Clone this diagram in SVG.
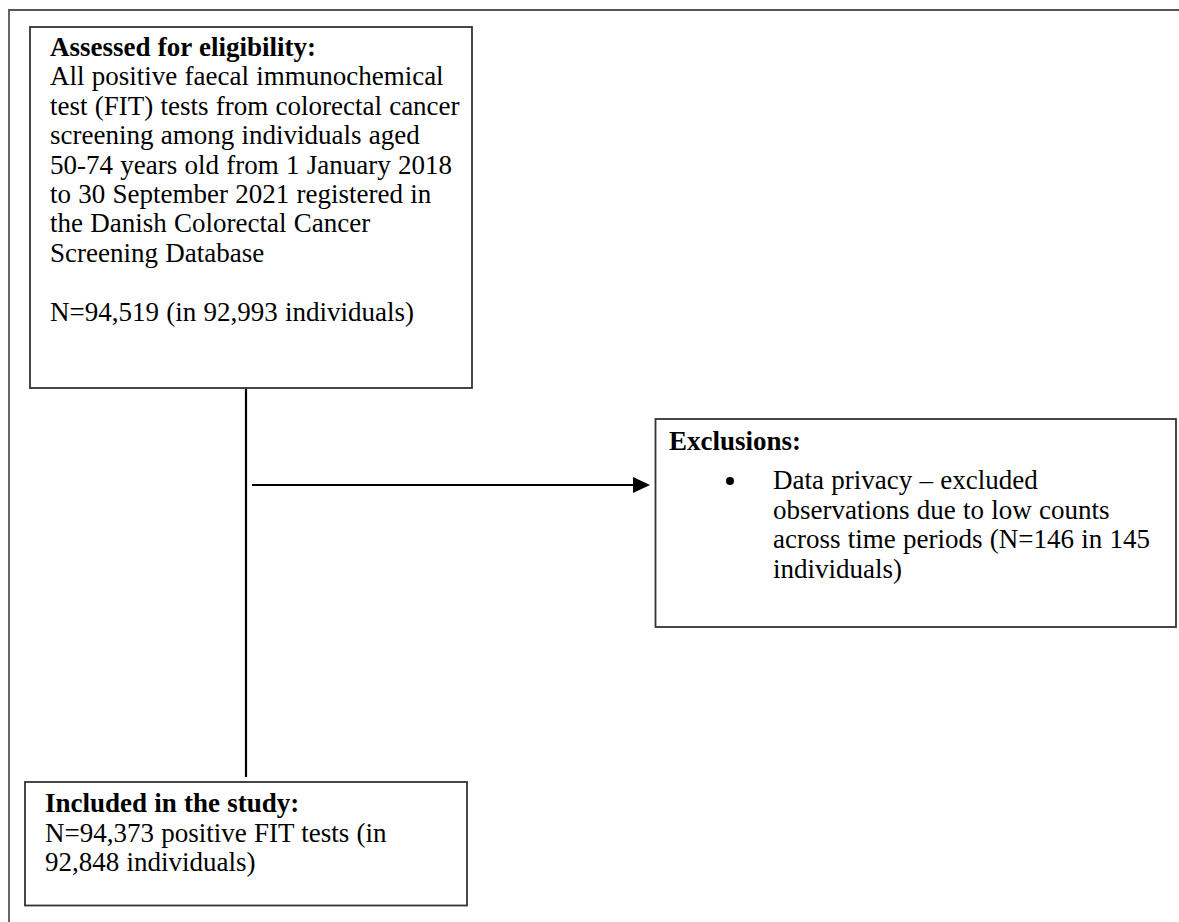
<svg xmlns="http://www.w3.org/2000/svg" width="1179" height="922" viewBox="0 0 1179 922">
<style>
.box{fill:#fff;stroke:#333;stroke-width:1.8}
.t{font-family:"Liberation Serif","Times New Roman",serif;font-size:27px;word-spacing:0.5px;fill:#000}
.b{font-weight:bold}
.conn{stroke:#000;stroke-width:2.2;fill:none}
</style>
<rect width="1179" height="922" fill="#fff"/>
<g id="frame">
<path d="M9,922 L9,10 L1179,10" fill="none" stroke="#555" stroke-width="1.8"/>
</g>
<g id="connectors">
<line class="conn" x1="246" y1="388" x2="246" y2="777"/>
<line class="conn" x1="252" y1="485" x2="634" y2="485"/>
<polygon points="633,477 650,485 633,493" fill="#000"/>
</g>
<g id="eligibility">
<rect class="box" x="30" y="27" width="442" height="361"/>
<text class="t b" x="50" y="56">Assessed for eligibility:</text>
<text class="t" x="50" y="85.4">All positive faecal immunochemical</text>
<text class="t" x="50" y="114.8">test (FIT) tests from colorectal cancer</text>
<text class="t" x="50" y="144.2">screening among individuals aged</text>
<text class="t" x="50" y="173.6">50-74 years old from 1 January 2018</text>
<text class="t" x="50" y="203">to 30 September 2021 registered in</text>
<text class="t" x="50" y="232.4">the Danish Colorectal Cancer</text>
<text class="t" x="50" y="261.8">Screening Database</text>
<text class="t" x="50" y="320.6">N=94,519 (in 92,993 individuals)</text>
</g>
<g id="exclusions">
<rect class="box" x="655.5" y="419" width="520.5" height="208"/>
<text class="t b" x="669" y="450">Exclusions:</text>
<circle cx="730" cy="481" r="4" fill="#000"/>
<text class="t" x="773" y="489">Data privacy – excluded</text>
<text class="t" x="773" y="518.5">observations due to low counts</text>
<text class="t" x="773" y="548">across time periods (N=146 in 145</text>
<text class="t" x="773" y="577.5">individuals)</text>
</g>
<g id="included">
<rect class="box" x="25" y="782" width="442" height="123.5"/>
<text class="t b" x="45" y="812">Included in the study:</text>
<text class="t" x="45" y="841.5">N=94,373 positive FIT tests (in</text>
<text class="t" x="45" y="871">92,848 individuals)</text>
</g>
</svg>
